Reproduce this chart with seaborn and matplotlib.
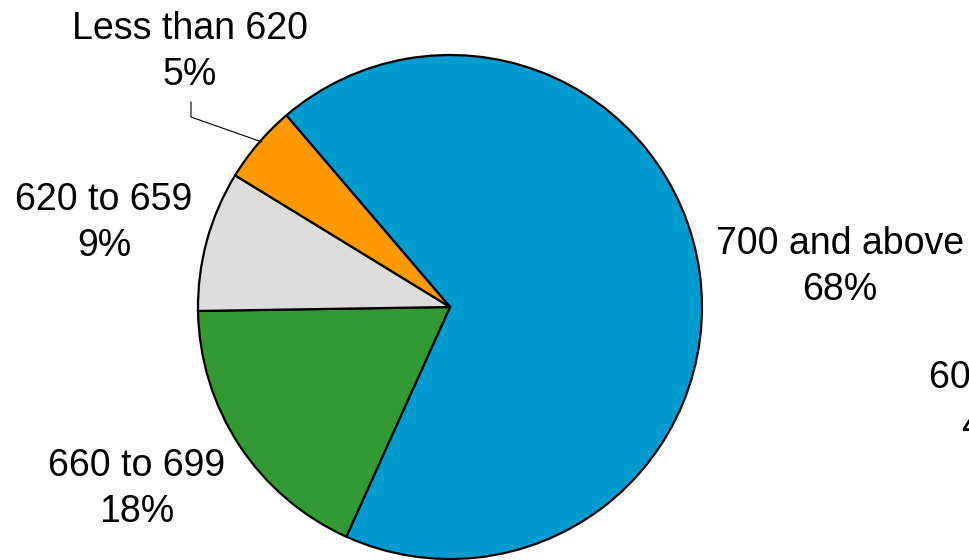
import matplotlib
matplotlib.use("Agg")
import matplotlib.pyplot as plt
import seaborn as sns

categories = ["700 and above", "660 to 699", "620 to 659", "Less than 620"]
shares = [68, 18, 9, 5]
colors = ["#009BCE", "#339933", "#DCDCDC", "#FF9900"]

sns.set_theme(style="white")
plt.rcParams["font.family"] = ["Liberation Sans", "DejaVu Sans"]

W, H = 969, 560
cx, cy, R = 450, 307, 252
fig = plt.figure(figsize=(W / 100, H / 100), dpi=100)
ax = fig.add_axes([0, 0, 1, 1])

ax.pie(shares, colors=colors, startangle=130.5, counterclock=False, radius=1,
       wedgeprops=dict(edgecolor="black", linewidth=1.6))
ax.set_aspect("auto")
ax.set_xlim((0 - cx) / R, (W - cx) / R)
ax.set_ylim(-(H - cy) / R, cy / R)
ax.axis("off")

def d(px, py):
    return ((px - cx) / R, (cy - py) / R)

fs = 27
label_pos = [(840, 267), (137, 489), (104, 223), (190, 52)]
for cat, val, (px, py) in zip(categories, shares, label_pos):
    ax.text(*d(px, py), f"{cat}\n{val}%", ha="center", va="center",
            fontsize=fs, linespacing=1.38, color="black")

# leader line for the smallest slice
xs, ys = zip(*[d(191, 102), d(191, 117), d(262, 142)])
ax.plot(xs, ys, color="black", lw=0.8)

# partially visible label at the right edge (cut off in the original)
ax.text(*d(929, 378), "600 to", ha="left", va="center", fontsize=fs,
        color="black", clip_on=False)
ax.text(*d(961, 427), "4%", ha="left", va="center", fontsize=fs,
        color="black", clip_on=False)

fig.savefig("out.png", dpi=100)
